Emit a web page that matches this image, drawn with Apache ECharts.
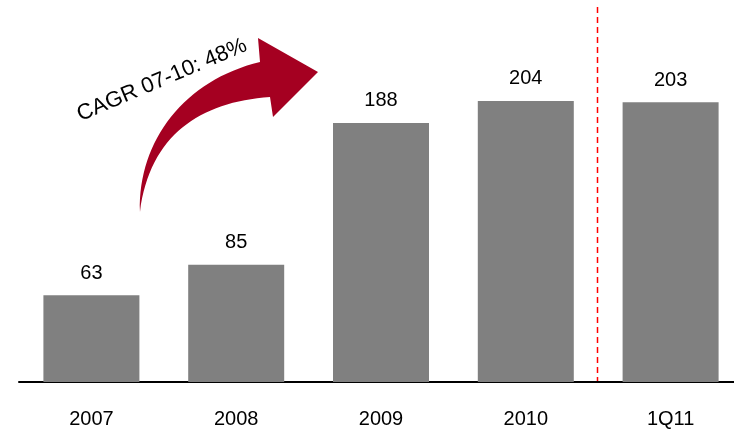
<!DOCTYPE html>
<html><head><meta charset="utf-8">
<script src="https://cdn.jsdelivr.net/npm/echarts@6/dist/echarts.min.js"></script>
<style>html,body{margin:0;padding:0;background:#fff}#c{width:734px;height:430px}</style>
</head><body><div id="c"></div>
<script>
var categories = ['2007', '2008', '2009', '2010', '1Q11'];
var values = [63, 85, 188, 204, 203];
var cagrText = 'CAGR 07-10: 48%';

var ArrowShape = echarts.graphic.extendPath(
  'M140,212 C138,140 185,80 260,62 L258,38 L318,72 L273,117 L270,97 C200,102 150,135 140,212 Z', {});
echarts.graphic.registerShape('cagrArrow', ArrowShape);

var chart = echarts.init(document.getElementById('c'), null, {renderer: 'canvas'});
var font = 'Liberation Sans, Arial, sans-serif';
chart.setOption({
  animation: false,
  grid: {left: 19, width: 724, top: 37.5, bottom: 48, outerBoundsMode: 'none', containLabel: false},
  xAxis: {
    type: 'category', data: categories,
    axisLine: {lineStyle: {color: '#000', width: 2}},
    axisTick: {show: false},
    axisLabel: {color: '#000', fontSize: 20, fontFamily: font, margin: 27}
  },
  yAxis: {type: 'value', min: 0, max: 250, show: false, splitLine: {show: false}},
  series: [{
    type: 'bar', data: values, barWidth: 96,
    itemStyle: {color: '#808080'},
    label: {show: true, position: 'top', distance: 12, color: '#000', fontSize: 20, fontFamily: font}
  }]
});

var p1 = chart.convertToPixel({xAxisIndex: 0}, '2010');
var p2 = chart.convertToPixel({xAxisIndex: 0}, '1Q11');
var sepX = Math.floor((p1 + p2) / 2) - 0.5;
var baseY = chart.convertToPixel({yAxisIndex: 0}, 0);

chart.setOption({
  graphic: [
    {type: 'line', shape: {x1: sepX, y1: 7, x2: sepX, y2: baseY - 1},
     style: {stroke: '#FF0000', lineWidth: 1.5, lineDash: [6, 4]}, z: 10},
    {type: 'cagrArrow', style: {fill: '#A50021'}, z: 10},
    {type: 'text', x: 162, y: 80, rotation: 23 * Math.PI / 180,
     style: {text: cagrText, fill: '#000', font: '22px ' + font, textAlign: 'center', textVerticalAlign: 'middle'}, z: 11}
  ]
});
</script></body></html>
